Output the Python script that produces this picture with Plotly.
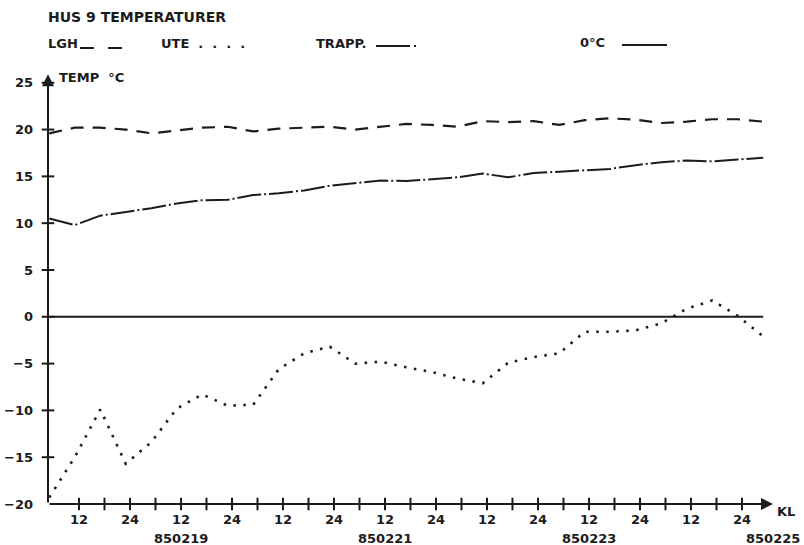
import plotly.graph_objects as go

# ---- data (hours counted from 850218 00:00) ----
hours = [5, 11, 17, 23, 29, 35, 41, 47, 53, 59, 65, 71, 77, 83, 89, 95, 101,
         107, 113, 119, 125, 131, 137, 143, 149, 155, 161, 167, 173]
lgh = [19.6, 20.2, 20.2, 20.0, 19.6, 19.9, 20.2, 20.3, 19.8, 20.1, 20.2, 20.3,
       20.0, 20.3, 20.6, 20.5, 20.3, 20.9, 20.8, 20.9, 20.5, 21.0, 21.2, 21.05,
       20.7, 20.85, 21.1, 21.1, 20.85]
ute = [-19.3, -15.0, -9.9, -15.7, -13.4, -9.8, -8.3, -9.5, -9.4, -5.6, -3.9,
       -3.2, -5.0, -4.8, -5.4, -5.9, -6.6, -7.1, -4.9, -4.3, -3.9, -1.6, -1.6,
       -1.45, -0.7, 0.85, 1.75, 0.1, -2.1]
trapp = [10.5, 9.8, 10.8, 11.2, 11.6, 12.1, 12.45, 12.5, 13.0, 13.2, 13.5, 14.0,
         14.3, 14.55, 14.5, 14.7, 14.9, 15.3, 14.9, 15.35, 15.5, 15.6, 15.8, 16.2,
         16.5, 16.7, 16.6, 16.8, 17.0]
zero_line = [0.0] * len(hours)

x_tick_vals = [12, 24, 36, 48, 60, 72, 84, 96, 108, 120, 132, 144, 156, 168]
x_tick_text = ["12", "24"] * 7
x_minor_ticks = [12 + 6 * i for i in range(27)]
y_tick_vals = [-20, -15, -10, -5, 0, 5, 10, 15, 20, 25]
date_labels = ["850219", "850221", "850223", "850225"]
date_pos = [36, 84, 132, 175.3]

X0, X1 = 4.706, 175.3
Y0, Y1 = -20, 26.47
INK = "#1c1c1c"
FONT = dict(family="DejaVu Sans", size=13, color=INK, weight="bold")
FONT_TITLE = dict(family="DejaVu Sans", size=14, color=INK, weight="bold")

L, R, T, B = 48, 31, 69, 41
WIDTH, HEIGHT = 804, 545
PW, PH = WIDTH - L - R, HEIGHT - T - B


def px(xp):
    return (xp - L) / PW


def py(yp):
    return (HEIGHT - B - yp) / PH


fig = go.Figure()
fig.add_trace(go.Scatter(x=hours, y=zero_line, mode="lines",
                         line=dict(color=INK, width=2), cliponaxis=False))
fig.add_trace(go.Scatter(x=hours, y=lgh, mode="lines",
                         line=dict(color=INK, width=2.2, dash="13px,9px"), cliponaxis=False))
fig.add_trace(go.Scatter(x=hours, y=trapp, mode="lines",
                         line=dict(color=INK, width=2, dash="24px,3px,2px,3px"), cliponaxis=False))
fig.add_trace(go.Scatter(x=hours, y=ute, mode="lines",
                         line=dict(color=INK, width=2.6, dash="2.5px,7.5px"), cliponaxis=False))
# axis tick crosses
fig.add_trace(go.Scatter(x=x_minor_ticks, y=[Y0] * len(x_minor_ticks), mode="markers",
                         marker=dict(symbol="line-ns", size=9, line=dict(color=INK, width=2)),
                         cliponaxis=False))
fig.add_trace(go.Scatter(x=[X0] * (len(y_tick_vals) - 1), y=y_tick_vals[1:], mode="markers",
                         marker=dict(symbol="line-ew", size=9, line=dict(color=INK, width=2)),
                         cliponaxis=False))

ann = []
# axes with arrows
ann.append(dict(x=X1, y=Y0, ax=X0, ay=Y0, xref="x", yref="y", axref="x", ayref="y",
                text="", showarrow=True, arrowhead=2, arrowsize=1.2, arrowwidth=2, arrowcolor=INK))
ann.append(dict(x=X0, y=25.9, ax=X0, ay=Y0, xref="x", yref="y", axref="x", ayref="y",
                text="", showarrow=True, arrowhead=2, arrowsize=1.2, arrowwidth=2, arrowcolor=INK))
for lab, pos in zip(date_labels, date_pos):
    ann.append(dict(x=pos, y=Y0, xref="x", yref="y", text=lab, showarrow=False,
                    yshift=-34, xanchor="center", yanchor="middle", font=FONT))
ann.append(dict(x=px(775), y=py(512), xref="paper", yref="paper", text="KL", showarrow=False,
                xanchor="left", yanchor="middle", font=FONT))
ann.append(dict(x=px(57), y=py(77), xref="paper", yref="paper", text="TEMP  °C",
                showarrow=False, xanchor="left", yanchor="middle", font=FONT))
ann.append(dict(x=px(46), y=py(17), xref="paper", yref="paper", text="HUS 9 TEMPERATURER",
                showarrow=False, xanchor="left", yanchor="middle", font=FONT_TITLE))
ann.append(dict(x=px(46), y=py(43), xref="paper", yref="paper", text="LGH",
                showarrow=False, xanchor="left", yanchor="middle", font=FONT))
ann.append(dict(x=px(159), y=py(43), xref="paper", yref="paper", text="UTE  .  .  .  .",
                showarrow=False, xanchor="left", yanchor="middle", font=FONT))
ann.append(dict(x=px(314), y=py(43), xref="paper", yref="paper", text="TRAPP.",
                showarrow=False, xanchor="left", yanchor="middle", font=FONT))
ann.append(dict(x=px(578), y=py(42), xref="paper", yref="paper", text="0°C",
                showarrow=False, xanchor="left", yanchor="middle", font=FONT))

shapes = [
    dict(type="line", xref="paper", yref="paper", x0=px(80), x1=px(122), y0=py(48), y1=py(48),
         line=dict(color=INK, width=2, dash="14px,14px")),
    dict(type="line", xref="paper", yref="paper", x0=px(376), x1=px(410), y0=py(46), y1=py(46),
         line=dict(color=INK, width=2)),
    dict(type="line", xref="paper", yref="paper", x0=px(414), x1=px(416), y0=py(46), y1=py(46),
         line=dict(color=INK, width=2)),
    dict(type="line", xref="paper", yref="paper", x0=px(622), x1=px(667), y0=py(45), y1=py(45),
         line=dict(color=INK, width=2)),
]

fig.update_layout(
    width=WIDTH, height=HEIGHT,
    margin=dict(l=L, r=R, t=T, b=B, autoexpand=False),
    paper_bgcolor="white", plot_bgcolor="white",
    showlegend=False,
    annotations=ann, shapes=shapes,
    xaxis=dict(range=[X0, X1], showgrid=False, zeroline=False, showline=False,
               tickvals=x_tick_vals, ticktext=x_tick_text, ticks="", automargin=False,
               ticklabelstandoff=6, tickfont=FONT),
    yaxis=dict(range=[Y0, Y1], showgrid=False, zeroline=False, showline=False,
               tickvals=y_tick_vals, ticks="", ticklabelstandoff=14, automargin=False,
               tickfont=FONT),
)

fig.write_html(
    "out.html",
    config={"displayModeBar": False},
    post_script="document.body.style.margin='0px';document.body.style.overflow='hidden';",
)
